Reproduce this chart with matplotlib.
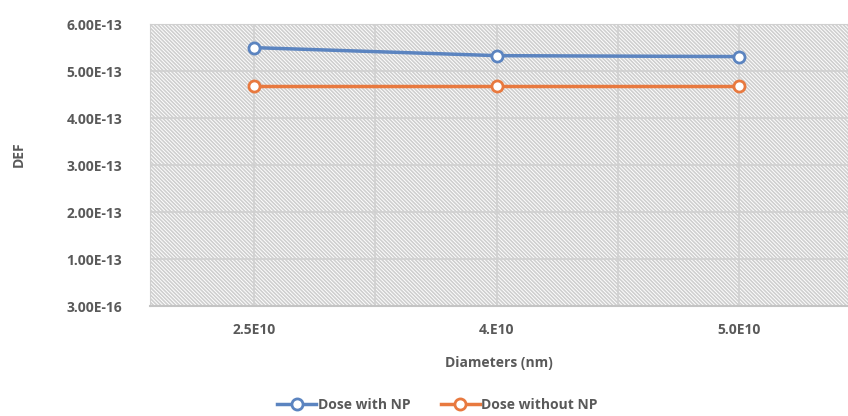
"""
DEF vs particle diameter, with and without nanoparticles.
"""

import matplotlib

matplotlib.use("Agg")
import matplotlib.pyplot as plt

# ── Data ──────────────────────────────────────────────────────
diameters = ["2.5E10", "4.E10", "5.0E10"]
dose_with_np = [5.50e-13, 5.33e-13, 5.31e-13]
dose_without_np = [4.69e-13, 4.69e-13, 4.69e-13]
y_ticks = [3.0e-16, 1.0e-13, 2.0e-13, 3.0e-13, 4.0e-13, 5.0e-13, 6.0e-13]

# ── Styling ───────────────────────────────────────────────────
TEXT = "#595959"
GRID = "#d0d0d0"
HATCH = "#cfcfcf"
BLUE = "#5b84c0"
ORANGE = "#e8793f"

plt.rcParams.update(
    {
        "font.family": ["Open Sans", "DejaVu Sans"],
        "font.weight": "bold",
        "font.size": 10,
        "text.color": TEXT,
        "hatch.linewidth": 1.2,
    }
)

fig = plt.figure(figsize=(8.48, 4.16), dpi=100)
ax = fig.add_axes([0.177, 0.264, 0.823, 0.678])

x = list(range(len(diameters)))

# hatched plot area
ax.add_patch(
    plt.Rectangle(
        (0, 0),
        1,
        1,
        transform=ax.transAxes,
        facecolor="white",
        edgecolor=HATCH,
        linewidth=0,
        hatch="\\" * 9,
        zorder=0,
    )
)

for values, color, label in [
    (dose_with_np, BLUE, "Dose with NP"),
    (dose_without_np, ORANGE, "Dose without NP"),
]:
    ax.plot(
        x,
        values,
        color=color,
        lw=2.5,
        marker="o",
        ms=8,
        mfc="white",
        mec=color,
        mew=2,
        label=label,
        zorder=3,
    )

ax.set_xlim(-0.43, 2.45)
ax.set_ylim(y_ticks[0], y_ticks[-1])

ax.set_yticks(y_ticks)
ax.set_yticklabels([f"{v:.2E}" for v in y_ticks])
ax.set_xticks(x)
ax.set_xticklabels(diameters)
ax.set_xticks([0.5, 1.5], minor=True)

ax.grid(True, which="both", color=GRID, lw=1.2, zorder=1)
ax.set_axisbelow(True)
ax.tick_params(which="both", length=0, colors=TEXT)
ax.tick_params(axis="y", pad=20)
ax.tick_params(axis="x", pad=12)

for side in ["top", "right", "left"]:
    ax.spines[side].set_color(GRID)
ax.spines["bottom"].set_color("#c4c4c4")
ax.spines["bottom"].set_linewidth(1.5)

ax.set_xlabel("Diameters (nm)", fontsize=10, color=TEXT, fontweight="bold",
              labelpad=14)
fig.text(0.022, 0.63, "DEF", rotation=90, ha="center", va="center",
         fontsize=10, color=TEXT, fontweight="bold")

fig.legend(
    loc="center",
    bbox_to_anchor=(0.516, 0.027),
    ncol=2,
    frameon=False,
    fontsize=10,
    handlelength=2.8,
    handletextpad=0.1,
    columnspacing=2.2,
)

fig.savefig("out.png", dpi=100)
